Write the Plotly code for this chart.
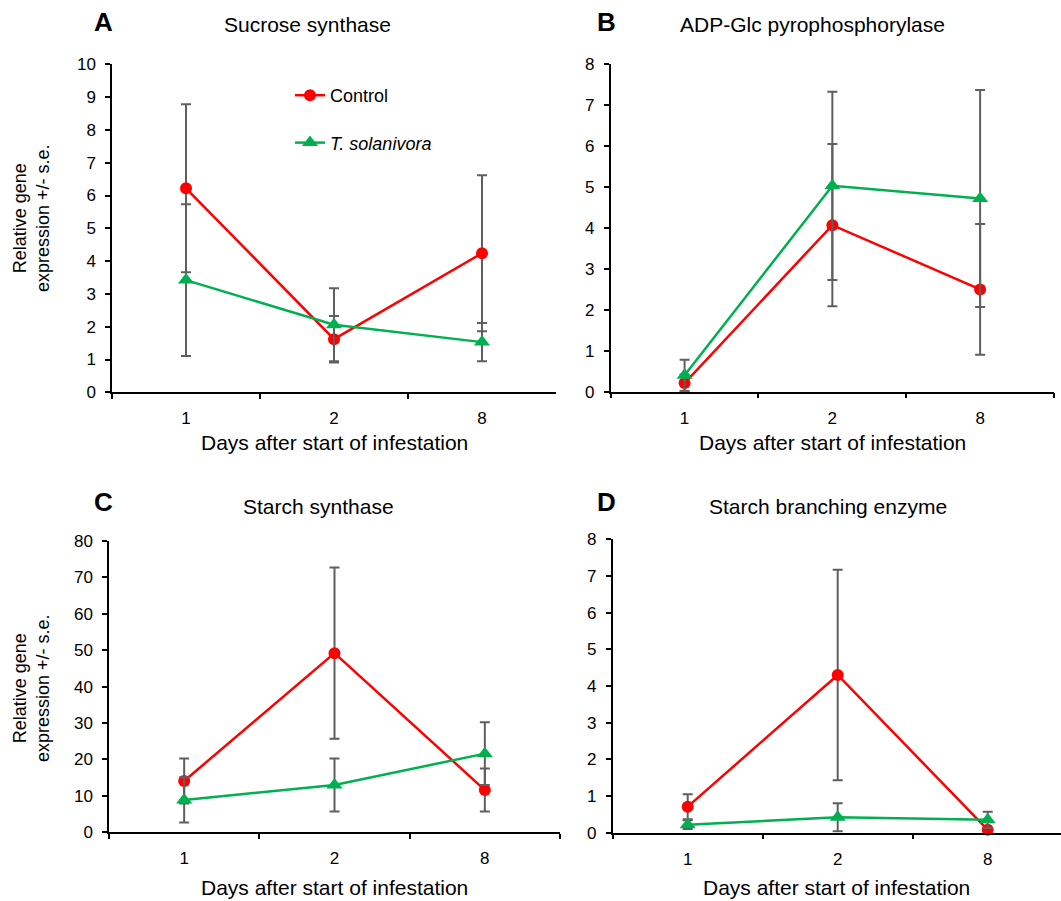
import plotly.graph_objects as go

W, H = 1061, 901

days = ["1", "2", "8"]

# Panel A: Sucrose synthase
a_control = [6.22, 1.62, 4.24]
a_control_se = [2.56, 0.71, 2.38]
a_tsol = [3.42, 2.06, 1.53]
a_tsol_se = [2.31, 1.11, 0.58]

# Panel B: ADP-Glc pyrophosphorylase
b_control = [0.21, 4.07, 2.50]
b_control_se = [0.21, 1.98, 1.60]
b_tsol = [0.40, 5.03, 4.72]
b_tsol_se = [0.38, 2.30, 2.65]

# Panel C: Starch synthase
c_control = [14.1, 49.2, 11.6]
c_control_se = [6.2, 23.5, 5.9]
c_tsol = [8.9, 13.0, 21.6]
c_tsol_se = [6.2, 7.3, 8.6]

# Panel D: Starch branching enzyme
d_control = [0.71, 4.30, 0.08]
d_control_se = [0.34, 2.87, 0.05]
d_tsol = [0.22, 0.42, 0.35]
d_tsol_se = [0.12, 0.38, 0.22]

panel_letters = ["A", "B", "C", "D"]
panel_titles = ["Sucrose synthase", "ADP-Glc pyrophosphorylase",
                "Starch synthase", "Starch branching enzyme"]
y_ranges = [[0, 10], [0, 8], [0, 80], [0, 8]]
y_dticks = [1, 1, 10, 1]

RED = "#FF0000"
GREEN = "#00B050"
ERR = "#5f5f5f"
FONT = "Liberation Sans, Arial, sans-serif"


def fx(px):
    return px / W


def fy(py):
    return 1 - py / H


# pixel boxes: (x0, x1, y_bottom, y_top)
boxes = [
    (112, 556, 392.3, 64.3),
    (610.7, 1054, 391.7, 64.3),
    (109, 560, 832.3, 541.0),
    (612.7, 1061, 832.7, 539.3),
]

series = [
    (a_control, a_control_se, a_tsol, a_tsol_se),
    (b_control, b_control_se, b_tsol, b_tsol_se),
    (c_control, c_control_se, c_tsol, c_tsol_se),
    (d_control, d_control_se, d_tsol, d_tsol_se),
]

fig = go.Figure()

for i, (ctrl, ctrl_se, ts, ts_se) in enumerate(series):
    sfx = "" if i == 0 else str(i + 1)
    xa, ya = "x" + sfx, "y" + sfx
    fig.add_trace(go.Scatter(
        x=days, y=ctrl, xaxis=xa, yaxis=ya, mode="lines+markers",
        name="Control", legendgroup="control", showlegend=(i == 0),
        line=dict(color=RED, width=2.5),
        marker=dict(symbol="circle", size=12, color=RED),
        error_y=dict(type="data", array=ctrl_se, visible=True,
                     color=ERR, thickness=2, width=5),
        cliponaxis=False,
    ))
    fig.add_trace(go.Scatter(
        x=days, y=ts, xaxis=xa, yaxis=ya, mode="lines+markers",
        name="<i>T. solanivora</i>", legendgroup="tsol", showlegend=(i == 0),
        line=dict(color=GREEN, width=2.5),
        marker=dict(symbol="triangle-up", size=14, color=GREEN),
        error_y=dict(type="data", array=ts_se, visible=True,
                     color=ERR, thickness=2, width=5),
        cliponaxis=False,
    ))

layout = dict(
    width=W, height=H,
    margin=dict(l=0, r=0, t=0, b=0, pad=0, autoexpand=False),
    paper_bgcolor="white", plot_bgcolor="white",
    font=dict(family=FONT, color="#000", size=17),
    showlegend=True,
    legend=dict(x=fx(290), y=fy(77), xanchor="left", yanchor="top",
                font=dict(size=18, family=FONT), bgcolor="rgba(0,0,0,0)",
                tracegroupgap=21, traceorder="grouped"),
)

annotations = []
for i, (x0, x1, yb, yt) in enumerate(boxes):
    sfx = "" if i == 0 else str(i + 1)
    xkey = "xaxis" + sfx
    ykey = "yaxis" + sfx
    rng = [-0.5, 2.5] if i != 3 else [-0.5, 2.5 - 1.7 / 150]
    layout[xkey] = dict(
        domain=[fx(x0), fx(x1)], anchor="y" + sfx, type="category",
        range=rng, tickson="boundaries", ticks="outside", ticklen=5,
        tickwidth=1.5, tickcolor="#000", showline=True, linecolor="#000",
        linewidth=1.5, showgrid=False, zeroline=False,
        tickfont=dict(size=17), ticklabelstandoff=10, fixedrange=True,
    )
    layout[ykey] = dict(
        domain=[fy(yb), fy(yt)], anchor="x" + sfx, range=y_ranges[i],
        dtick=y_dticks[i], tick0=0, ticks="outside", ticklen=5,
        tickwidth=1.5, tickcolor="#000", showline=True, linecolor="#000",
        linewidth=1.5, showgrid=False, zeroline=False,
        tickfont=dict(size=17), ticklabelstandoff=6, fixedrange=True,
    )

# panel letters and titles
letter_pos = [(103, 22), (606, 22), (103, 502), (606, 502)]
title_pos = [(307.5, 25), (812, 25), (318.5, 506), (828, 506)]
xtitle_pos = [(334, 442), (832, 442), (334, 887), (836, 887)]
for i in range(4):
    lx, ly = letter_pos[i]
    annotations.append(dict(x=fx(lx), y=fy(ly), xref="paper", yref="paper",
                            text="<b>%s</b>" % panel_letters[i], showarrow=False,
                            font=dict(size=26, family=FONT, color="#000"),
                            xanchor="center", yanchor="middle"))
    tx, ty = title_pos[i]
    annotations.append(dict(x=fx(tx), y=fy(ty), xref="paper", yref="paper",
                            text=panel_titles[i], showarrow=False,
                            font=dict(size=21, family=FONT, color="#000"),
                            xanchor="center", yanchor="middle"))
    ax, ay = xtitle_pos[i]
    annotations.append(dict(x=fx(ax), y=fy(ay), xref="paper", yref="paper",
                            text="Days after start of infestation", showarrow=False,
                            font=dict(size=21, family=FONT, color="#000"),
                            xanchor="center", yanchor="middle"))

for cy in (218, 688):
    annotations.append(dict(x=fx(31), y=fy(cy), xref="paper", yref="paper",
                            text="Relative gene<br>expression +/- s.e.",
                            showarrow=False, textangle=-90,
                            font=dict(size=18, family=FONT, color="#000"),
                            xanchor="center", yanchor="middle"))

layout["annotations"] = annotations
fig.update_layout(**layout)

fig.write_html("out.html")
